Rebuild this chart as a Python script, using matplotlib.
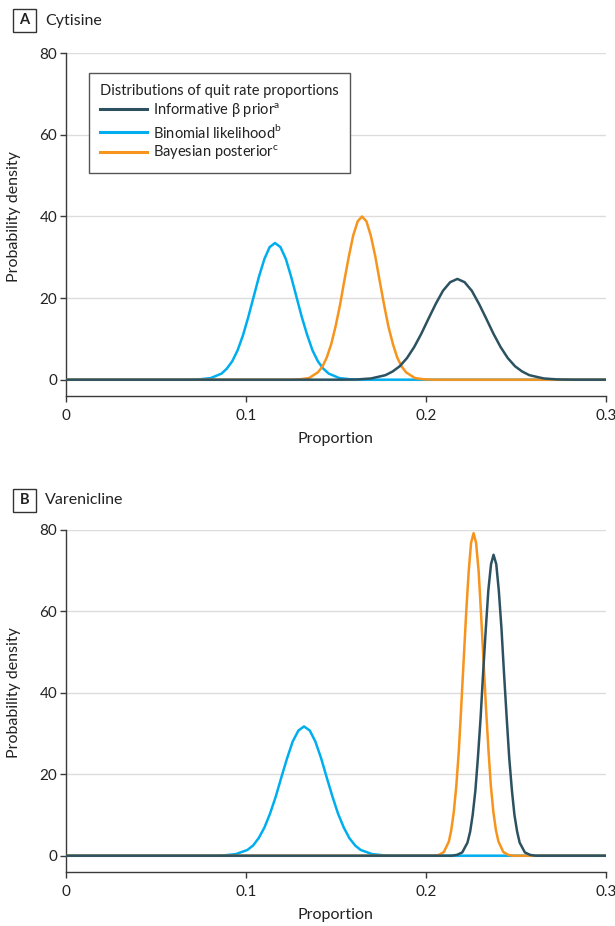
import matplotlib
matplotlib.use("Agg")
import matplotlib.pyplot as plt
from matplotlib.patches import Rectangle

plt.rcParams['font.family'] = ['Lato', 'DejaVu Sans']
plt.rcParams['mathtext.fontset'] = 'custom'
plt.rcParams['mathtext.rm'] = 'Lato'

# colours of the three distributions
PRIOR_COLOR = '#2c5261'
LIKE_COLOR = '#00aeef'
POST_COLOR = '#f7941d'
TEXT_COLOR = '#222222'
AXIS_COLOR = '#3a3a3a'

labels = ['Informative β prior$^{\\mathrm{a}}$',
          'Binomial likelihood$^{\\mathrm{b}}$',
          'Bayesian posterior$^{\\mathrm{c}}$']
legend_title = 'Distributions of quit rate proportions'
panel_letters = ['A', 'B']
panel_names = ['Cytisine', 'Varenicline']
x_ticks = [0, 0.1, 0.2, 0.3]
x_tick_labels = ['0', '0.1', '0.2', '0.3']
y_ticks = [0, 20, 40, 60, 80]

# ---- Panel A: cytisine ----
cyt_like_x = [0, 0.0687, 0.0747, 0.0806, 0.0866, 0.0895, 0.0925, 0.0955, 0.0985, 0.1014, 0.1044, 0.1074,
              0.1104, 0.1133, 0.1163, 0.1193, 0.1223, 0.1252, 0.1282, 0.1312, 0.1342, 0.1371, 0.1401,
              0.1431, 0.1461, 0.1520, 0.1580, 0.1639, 0.3]
cyt_like_y = [0, 0.0, 0.1, 0.4, 1.5, 2.7, 4.5, 7.2, 10.9, 15.3, 20.3, 25.3,
              29.6, 32.5, 33.5, 32.5, 29.6, 25.3, 20.3, 15.3, 10.9, 7.2, 4.5,
              2.7, 1.5, 0.4, 0.1, 0.0, 0]

cyt_post_x = [0, 0.1254, 0.1303, 0.1352, 0.1401, 0.1426, 0.1450, 0.1475, 0.1499, 0.1524, 0.1548, 0.1573,
              0.1597, 0.1622, 0.1646, 0.1671, 0.1695, 0.1720, 0.1744, 0.1769, 0.1793, 0.1818, 0.1842,
              0.1867, 0.1891, 0.1940, 0.1989, 0.2038, 0.3]
cyt_post_y = [0, 0.0, 0.1, 0.4, 1.8, 3.2, 5.4, 8.7, 13.0, 18.3, 24.3, 30.2,
              35.3, 38.8, 40.0, 38.8, 35.3, 30.2, 24.3, 18.3, 13.0, 8.7, 5.4,
              3.2, 1.8, 0.4, 0.1, 0.0, 0]

cyt_prior_x = [0, 0.1536, 0.1616, 0.1696, 0.1776, 0.1816, 0.1856, 0.1896, 0.1936, 0.1976, 0.2016, 0.2056,
               0.2096, 0.2136, 0.2176, 0.2216, 0.2256, 0.2296, 0.2336, 0.2376, 0.2416, 0.2456, 0.2496,
               0.2536, 0.2576, 0.2656, 0.2736, 0.2816, 0.3]
cyt_prior_y = [0, 0.0, 0.05, 0.3, 1.1, 2.0, 3.3, 5.3, 8.0, 11.3, 15.0, 18.6,
               21.8, 23.9, 24.7, 23.9, 21.8, 18.6, 15.0, 11.3, 8.0, 5.3, 3.3,
               2.0, 1.1, 0.3, 0.05, 0.0, 0]

# ---- Panel B: varenicline ----
var_like_x = [0, 0.0820, 0.0883, 0.0946, 0.1009, 0.1041, 0.1072, 0.1104, 0.1135, 0.1167, 0.1198, 0.1230,
              0.1261, 0.1293, 0.1324, 0.1356, 0.1387, 0.1419, 0.1450, 0.1482, 0.1513, 0.1545, 0.1576,
              0.1608, 0.1639, 0.1702, 0.1765, 0.1828, 0.3]
var_like_y = [0, 0.0, 0.1, 0.4, 1.4, 2.5, 4.3, 6.9, 10.3, 14.5, 19.2, 23.9,
              28.0, 30.7, 31.7, 30.7, 28.0, 23.9, 19.2, 14.5, 10.3, 6.9, 4.3,
              2.5, 1.4, 0.4, 0.1, 0.0, 0]

var_post_x = [0, 0.2046, 0.2074, 0.2101, 0.2129, 0.2142, 0.2156, 0.2170, 0.2184, 0.2197, 0.2211, 0.2225,
              0.2239, 0.2252, 0.2266, 0.2280, 0.2294, 0.2307, 0.2321, 0.2335, 0.2349, 0.2362, 0.2376,
              0.2390, 0.2404, 0.2431, 0.2459, 0.2486, 0.3]
var_post_y = [0, 0.0, 0.2, 0.9, 3.5, 6.3, 10.7, 17.1, 25.7, 36.2, 48.0, 59.7,
              69.8, 76.7, 79.1, 76.7, 69.8, 59.7, 48.0, 36.2, 25.7, 17.1, 10.7,
              6.3, 3.5, 0.9, 0.2, 0.0, 0]

var_prior_x = [0, 0.2145, 0.2174, 0.2203, 0.2232, 0.2247, 0.2261, 0.2276, 0.2290, 0.2305, 0.2319, 0.2334,
               0.2348, 0.2363, 0.2377, 0.2392, 0.2406, 0.2421, 0.2435, 0.2450, 0.2464, 0.2479, 0.2493,
               0.2508, 0.2522, 0.2551, 0.2580, 0.2609, 0.3]
var_prior_y = [0, 0.0, 0.2, 0.8, 3.2, 5.9, 10.0, 16.0, 24.0, 33.8, 44.8, 55.7,
               65.1, 71.5, 73.8, 71.5, 65.1, 55.7, 44.8, 33.8, 24.0, 16.0, 10.0,
               5.9, 3.2, 0.8, 0.2, 0.0, 0]

W, H = 615, 926
fig = plt.figure(figsize=(W / 100, H / 100), dpi=100)

# axes positions in pixels: left, right, top (80 line), bottom (x axis line)
ax_a = fig.add_axes([65.7 / W, 1 - 396 / H, 540 / W, (396 - 53.3) / H])
ax_b = fig.add_axes([65.7 / W, 1 - 872 / H, 540 / W, (872 - 529.5) / H])

panels = [
    (ax_a, cyt_like_x, cyt_like_y, cyt_post_x, cyt_post_y, cyt_prior_x, cyt_prior_y),
    (ax_b, var_like_x, var_like_y, var_post_x, var_post_y, var_prior_x, var_prior_y),
]

for ax, lx, ly, px, py, rx, ry in panels:
    for yv in y_ticks:
        ax.axhline(yv, color='#dcdcdc', lw=1.0, zorder=0)
    l_like, = ax.plot(lx, ly, color=LIKE_COLOR, lw=1.8, zorder=2, solid_joinstyle='round')
    l_post, = ax.plot(px, py, color=POST_COLOR, lw=1.8, zorder=3, solid_joinstyle='round')
    l_prior, = ax.plot(rx, ry, color=PRIOR_COLOR, lw=1.8, zorder=4, solid_joinstyle='round')

    ax.set_xlim(0, 0.3)
    ax.set_ylim(-4, 80)
    ax.set_xticks(x_ticks)
    ax.set_xticklabels(x_tick_labels)
    ax.set_yticks(y_ticks)
    for side in ['top', 'right']:
        ax.spines[side].set_visible(False)
    for side in ['left', 'bottom']:
        ax.spines[side].set_color(AXIS_COLOR)
        ax.spines[side].set_linewidth(1.0)
    ax.tick_params(axis='both', colors=AXIS_COLOR, labelcolor=TEXT_COLOR, labelsize=11,
                   length=4, width=1.0, direction='out')
    ax.tick_params(axis='x', pad=5)
    ax.tick_params(axis='y', pad=2)
    ax.set_xlabel('Proportion', fontsize=11.5, color=TEXT_COLOR, labelpad=7)
    ax.set_ylabel('Probability density', fontsize=11.5, color=TEXT_COLOR)
    ax.yaxis.set_label_coords(-0.083, 0.524)
    ax.set_facecolor('none')

    if ax is ax_a:
        leg = ax.legend([l_prior, l_like, l_post], labels, title=legend_title,
                        loc='upper left', bbox_to_anchor=(0.043, 0.943), borderaxespad=0,
                        fontsize=10.5, title_fontsize=10.5, handlelength=3.2, handletextpad=0.45,
                        labelspacing=0.2, fancybox=False, framealpha=1, alignment='left',
                        borderpad=0.75)
        leg.get_frame().set_edgecolor('#555555')
        leg.get_frame().set_linewidth(1.0)
        for t in leg.get_texts():
            t.set_color(TEXT_COLOR)
        leg.get_title().set_color(TEXT_COLOR)
        for h in leg.legend_handles:
            h.set_linewidth(2.2)

# panel headers: boxed letter and drug name
for letter, name, cy in zip(panel_letters, panel_names, [20.5, 500.3]):
    fig.patches.append(Rectangle((13 / W, 1 - (cy + 11.5) / H), 23 / W, 23 / H,
                                 transform=fig.transFigure, fill=False, ec='#333333', lw=1.0))
    fig.text(24.5 / W, 1 - cy / H, letter, ha='center', va='center', fontsize=10.5,
             fontweight='bold', color=TEXT_COLOR)
    fig.text(45 / W, 1 - cy / H, name, ha='left', va='center', fontsize=11.5, color=TEXT_COLOR)

fig.savefig('out.png', dpi=100, facecolor='white')
